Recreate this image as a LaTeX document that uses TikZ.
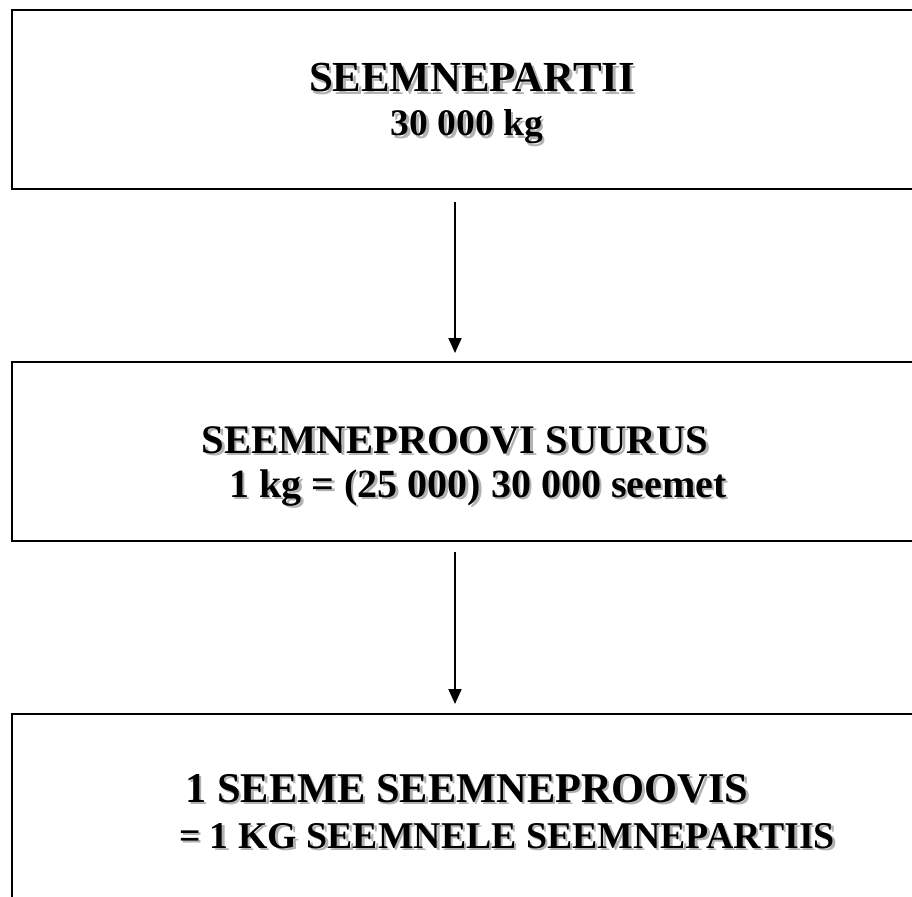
\documentclass[tikz,border=0pt]{standalone}
\usepackage{fontspec}
\setmainfont{Liberation Serif}
\usetikzlibrary{arrows.meta}

\newcommand{\shadowed}[1]{\makebox[0pt][l]{\hspace{2.5pt}\raisebox{-2.5pt}{\color{black!30}#1}}#1}

\begin{document}
\begin{tikzpicture}[x=1pt, y=-1pt,
    box/.style={draw, line width=2pt, minimum width=920pt, inner sep=0pt, anchor=north west},
    line/.style={anchor=base, font=\bfseries, inner sep=0pt},
    arrow/.style={-{Triangle[length=15pt,width=13pt]}, line width=2pt}]
\useasboundingbox (0,0) rectangle (912,896);
\clip (0,0) rectangle (912,896);
\node[box, minimum height=179pt] (partii) at (11,9) {};
\node[box, minimum height=179pt] (proov) at (11,361) {};
\node[box, minimum height=200pt] (seeme) at (11,713) {};
\coordinate (axis) at (455,0);

\node[line, font=\bfseries\fontsize{42.8}{50}\selectfont] (partii1) at (472,92) {\shadowed{SEEMNEPARTII}};
\node[line, font=\bfseries\fontsize{37.5}{44}\selectfont] (partii2) at (467,136) {\shadowed{30 000 kg}};

\node[line, font=\bfseries\fontsize{40.6}{48}\selectfont] (proov1) at (455,453) {\shadowed{SEEMNEPROOVI SUURUS}};
\node[line, font=\bfseries\fontsize{40}{48}\selectfont] (proov2) at (478,497) {\shadowed{1 kg = (25 000) 30 000 seemet}};

\node[line, font=\bfseries\fontsize{42.4}{50}\selectfont] (seeme1) at (467,802) {\shadowed{1 SEEME SEEMNEPROOVIS}};
\node[line, font=\bfseries\fontsize{37.8}{46}\selectfont] (seeme2) at (507,848) {\shadowed{= 1 KG SEEMNELE SEEMNEPARTIIS}};

\draw[arrow, shorten <=12pt, shorten >=8pt] (partii.south -| axis) -- (proov.north -| axis);
\draw[arrow, shorten <=10pt, shorten >=9pt] (proov.south -| axis) -- (seeme.north -| axis);
\end{tikzpicture}
\end{document}
